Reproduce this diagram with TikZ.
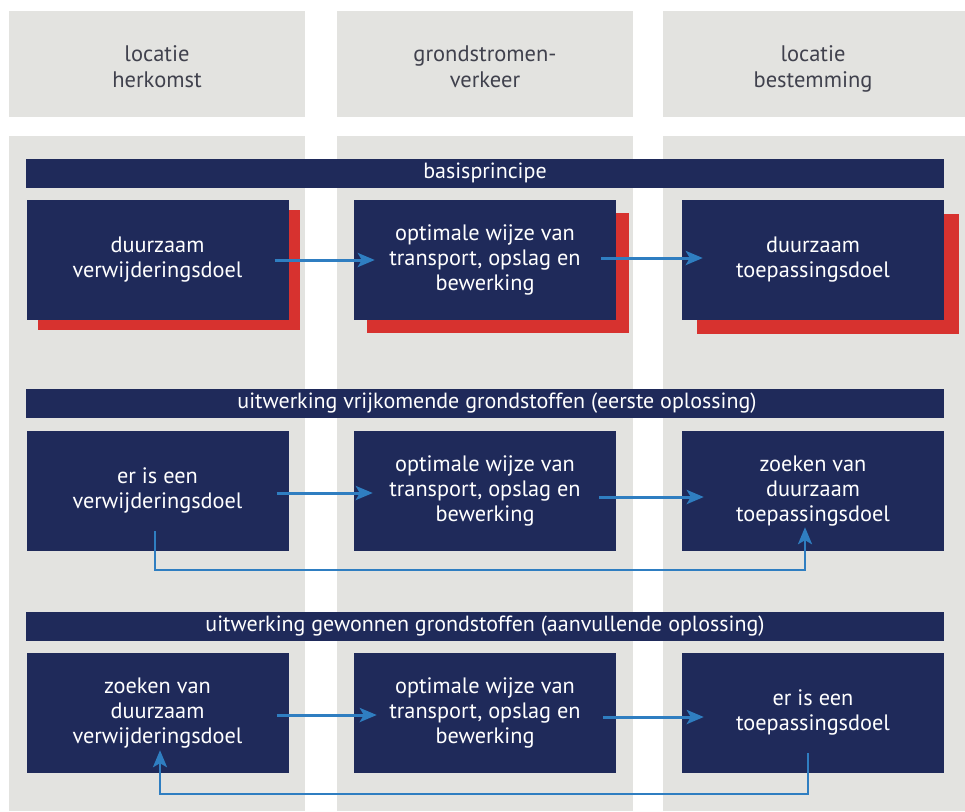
\documentclass[tikz,border=0pt]{standalone}
\usepackage{fontspec}
\setmainfont{PT Sans}
\usetikzlibrary{arrows.meta}
\definecolor{navy}{HTML}{1F2A5A}
\definecolor{shred}{HTML}{D7322F}
\definecolor{panel}{HTML}{E3E3E0}
\definecolor{hdtext}{HTML}{40414D}
\definecolor{arr}{HTML}{2F7EC1}
\begin{document}
\begin{tikzpicture}[x=1pt,y=-1pt,
  panelbox/.style={fill=panel,draw=none,inner sep=0pt,anchor=north west},
  headtext/.style={text=hdtext,align=center,font=\fontsize{22.5}{26}\selectfont},
  banner/.style={fill=navy,text=white,minimum width=918pt,minimum height=29pt,inner sep=0pt,font=\fontsize{22}{24}\selectfont},
  navybox/.style={fill=navy,text=white,minimum width=262pt,minimum height=120pt,inner sep=0pt,align=center,font=\fontsize{22.3}{25}\selectfont},
  shadowbox/.style={fill=shred,minimum width=262pt,minimum height=120pt,inner sep=0pt},
  flow/.style={draw=arr,line width=3pt,-{Stealth[length=17pt,width=14pt,inset=4pt]}},
  loop/.style={draw=arr,line width=2.7pt,-{Stealth[length=17pt,width=14pt,inset=4pt]}}
]
\useasboundingbox (0,0) rectangle (965,811);
% column panels
\node[panelbox,minimum width=296pt,minimum height=106pt] (h1) at (9,11) {};
\node[panelbox,minimum width=296pt,minimum height=106pt] (h2) at (337,11) {};
\node[panelbox,minimum width=302pt,minimum height=106pt] (h3) at (663,11) {};
\node[panelbox,minimum width=296pt,minimum height=675pt] (p1) at (9,136) {};
\node[panelbox,minimum width=296pt,minimum height=675pt] (p2) at (337,136) {};
\node[panelbox,minimum width=302pt,minimum height=675pt] (p3) at (663,136) {};
\node[headtext] (t1) at (157,69) {\strut locatie\\herkomst\strut};
\node[headtext] (t2) at (485,69) {\strut grondstromen-\\verkeer\strut};
\node[headtext] (t3) at (813,69) {\strut locatie\\bestemming\strut};
% banners
\node[banner] (ban1) at (485,173) {basisprincipe};
\node[banner] (ban2) at (485,403.5) {\hspace*{24pt}uitwerking vrijkomende grondstoffen (eerste oplossing)};
\node[banner] (ban3) at (485,626.5) {uitwerking gewonnen grondstoffen (aanvullende oplossing)};
% red shadows
\node[shadowbox] (s11) at (168.5,270) {};
\node[shadowbox] (s12) at (498,272.5) {};
\node[shadowbox] (s13) at (828,274) {};
% row 1
\node[navybox] (b11) at (157.5,260) {\strut duurzaam\\verwijderingsdoel\strut};
\node[navybox] (b12) at (485,260) {\strut optimale wijze van\\transport, opslag en\\bewerking\strut};
\node[navybox] (b13) at (813,260) {\strut duurzaam\\toepassingsdoel\strut};
% row 2
\node[navybox] (b21) at (157.5,491) {\strut er is een\\verwijderingsdoel\strut};
\node[navybox] (b22) at (485,491) {\strut optimale wijze van\\transport, opslag en\\bewerking\strut};
\node[navybox] (b23) at (813,491) {\strut zoeken van\\duurzaam\\toepassingsdoel\strut};
% row 3
\node[navybox] (b31) at (157.5,713) {\strut zoeken van\\duurzaam\\verwijderingsdoel\strut};
\node[navybox] (b32) at (485,713) {\strut optimale wijze van\\transport, opslag en\\bewerking\strut};
\node[navybox] (b33) at (813,713) {\strut er is een\\toepassingsdoel\strut};
% flow arrows
\draw[flow] ([xshift=-14pt]b11.east) -- ([xshift=21pt]b12.west);
\draw[flow] ([xshift=-15pt,yshift=2pt]b12.east) -- ([xshift=21pt,yshift=2pt]b13.west);
\draw[flow] ([xshift=-12pt,yshift=-2pt]b21.east) -- ([xshift=19pt,yshift=-2pt]b22.west);
\draw[flow] ([xshift=-17pt,yshift=-6pt]b22.east) -- ([xshift=22pt,yshift=-6pt]b23.west);
\draw[flow] ([xshift=-12pt,yshift=-2pt]b31.east) -- ([xshift=23pt,yshift=-2pt]b32.west);
\draw[flow] ([xshift=-13pt,yshift=-4pt]b32.east) -- ([xshift=22pt,yshift=-4pt]b33.west);
% loops
\coordinate (l2a) at ([xshift=-2.5pt,yshift=20pt]b21.south);
\coordinate (l2b) at ([xshift=-8pt,yshift=24pt]b23.south);
\draw[loop] (l2a) |- (805,570) -- (l2b);
\coordinate (l3a) at ([xshift=-5pt,yshift=20pt]b33.south);
\coordinate (l3b) at ([xshift=2.5pt,yshift=23pt]b31.south);
\draw[loop] (l3a) |- (160,794) -- (l3b);
\end{tikzpicture}
\end{document}
